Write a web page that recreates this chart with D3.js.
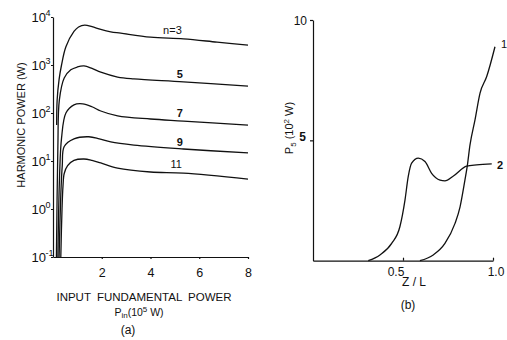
<!DOCTYPE html>
<html><head><meta charset="utf-8">
<script src="https://cdn.jsdelivr.net/npm/d3@7"></script>
<style>
body{margin:0;background:#fff}
svg{display:block}
text{font-family:"Liberation Sans",Arial,Helvetica,sans-serif;fill:#111}
</style>
</head><body><svg id="c" width="507" height="340"></svg>
<script>
// ---------- Panel (a) data: harmonic power vs input fundamental power ----------
const harmonicLabels = ["n=3", "5", "7", "9", "11"];
const pinN3  = [0.15, 0.17, 0.25, 0.35, 0.53, 0.86, 1.05, 1.3, 1.6, 1.96, 2.37, 2.78, 4.0, 5.35, 6.73, 8.0];
const powN3  = [56, 186, 500, 1000, 2400, 5000, 6200, 6800, 6300, 5500, 4900, 4600, 3800, 3500, 3000, 2600];
const pinN5  = [0.14, 0.2, 0.26, 0.46, 0.73, 1.0, 1.27, 1.6, 1.96, 2.65, 3.32, 5.35, 8.0];
const powN5  = [0.1, 20, 186, 537, 795, 910, 955, 850, 708, 562, 513, 447, 363];
const pinN7  = [0.2, 0.27, 0.35, 0.53, 0.86, 1.22, 1.6, 1.96, 2.65, 4.0, 5.35, 8.0];
const powN7  = [0.1, 5, 30, 100, 148, 155, 135, 110, 87, 75, 68, 56];
const pinN9  = [0.25, 0.32, 0.38, 0.46, 0.86, 1.47, 1.9, 2.37, 3.32, 5.35, 8.0];
const powN9  = [0.1, 2, 8, 20, 29, 32, 29, 25, 21.5, 17.8, 14.7];
const pinN11 = [0.32, 0.37, 0.41, 0.46, 0.6, 0.86, 1.27, 1.6, 1.96, 2.65, 4.0, 5.35, 8.0];
const powN11 = [0.1, 1, 3, 5.5, 8, 10.3, 11, 10.3, 9.1, 7.1, 5.9, 5.6, 4.2];
const labelPin = [4.9, 5.2, 5.2, 5.2, 5.05];
const labelPow = [4400, 537, 82, 20.5, 7.1];
const pinTicks = [2, 4, 6, 8];
const powExponents = [-1, 0, 1, 2, 3, 4];

// ---------- Panel (b) data: P5 vs Z/L ----------
const curveLabels = ["1", "2"];
const zRatio1 = [0.594, 0.668, 0.733, 0.789, 0.817, 0.844, 0.857, 0.872, 0.9, 0.928, 0.965, 1.011];
const p5Line1 = [0, 0.24, 0.72, 1.55, 2.24, 3.35, 3.93, 4.8, 5.85, 6.96, 7.65, 8.89];
const zRatio2 = [0.307, 0.372, 0.437, 0.483, 0.511, 0.529, 0.548, 0.585, 0.622, 0.659, 0.706, 0.733, 0.78, 0.854, 0.909, 0.993];
const p5Line2 = [0, 0.24, 0.72, 1.42, 2.52, 3.49, 4.05, 4.26, 4.12, 3.63, 3.35, 3.32, 3.52, 3.93, 3.98, 4.02];
const zTicks = [0.5, 1.0];
const zTickLabels = ["0.5", "1.0"];
const p5Ticks = [5, 10];

const svg = d3.select("#c");
const INK = "#111";

// ================= Panel (a) =================
const xA = d3.scaleLinear().domain([0, 8]).range([53, 248]);
const yA = d3.scaleLog().domain([0.1, 10000]).range([257, 17]);
const gA = svg.append("g");

const axA_y = gA.append("g").attr("transform", `translate(${xA(0)},0)`)
  .call(d3.axisLeft(yA).tickValues(powExponents.map(e => Math.pow(10, e))).tickSize(2).tickSizeOuter(0).tickFormat(""));
const axA_x = gA.append("g").attr("transform", `translate(0,${yA(0.1)})`)
  .call(d3.axisBottom(xA).tickValues(pinTicks).tickSize(2).tickSizeOuter(0).tickFormat(d3.format("d")));
[axA_y, axA_x].forEach(a => {
  a.selectAll("path,line").attr("stroke", INK).attr("stroke-width", 1.2);
});
axA_x.selectAll("text").attr("font-size", 12.5).attr("dy", "1.2em").attr("fill", INK);

// log tick labels with superscripts
powExponents.forEach(e => {
  gA.append("text").attr("x", 46).attr("y", yA(Math.pow(10, e)) + 5)
    .attr("text-anchor", "end").attr("font-size", 13).text("10");
  gA.append("text").attr("x", 45.5).attr("y", yA(Math.pow(10, e)) - 1)
    .attr("font-size", 9).text(e);
});

const lineA = d3.line().x(d => xA(d[0])).y(d => yA(d[1])).curve(d3.curveCatmullRom.alpha(0.5));
const seriesA = [[pinN3, powN3], [pinN5, powN5], [pinN7, powN7], [pinN9, powN9], [pinN11, powN11]];
seriesA.forEach(([xs, ys]) => {
  gA.append("path").datum(xs.map((x, i) => [x, ys[i]]))
    .attr("d", lineA).attr("fill", "none").attr("stroke", INK).attr("stroke-width", 1.3);
});
harmonicLabels.forEach((lab, i) => {
  gA.append("text").attr("x", xA(labelPin[i])).attr("y", yA(labelPow[i]))
    .attr("text-anchor", "middle").attr("font-size", 11)
    .attr("font-weight", (i >= 1 && i <= 3) ? "bold" : "normal").text(lab);
});

// axis titles
gA.append("text").attr("transform", "translate(25,125) rotate(-90)")
  .attr("text-anchor", "middle").attr("font-size", 11).text("HARMONIC POWER (W)");
gA.append("text").attr("x", 144).attr("y", 301).attr("text-anchor", "middle")
  .attr("font-size", 11.5).attr("word-spacing", 3).text("INPUT FUNDAMENTAL POWER");
const pin = gA.append("text").attr("x", 139).attr("y", 316).attr("text-anchor", "middle").attr("font-size", 10.5);
pin.append("tspan").text("P");
pin.append("tspan").attr("font-size", 8).attr("dy", 2).text("in");
pin.append("tspan").attr("dy", -2).text("(10");
pin.append("tspan").attr("font-size", 8).attr("dy", -4).text("5");
pin.append("tspan").attr("dy", 4).text(" W)");
gA.append("text").attr("x", 128).attr("y", 334).attr("text-anchor", "middle").attr("font-size", 12).text("(a)");

// ================= Panel (b) =================
const xB = d3.scaleLinear().domain([0, 1]).range([313, 493]);
const yB = d3.scaleLinear().domain([0, 10]).range([260.7, 20]);
const gB = svg.append("g");

const axB_y = gB.append("g").attr("transform", `translate(${xB(0)},0)`)
  .call(d3.axisLeft(yB).tickValues(p5Ticks).tickSize(3).tickSizeOuter(0).tickFormat(""));
const axB_x = gB.append("g").attr("transform", `translate(0,${yB(0)})`)
  .call(d3.axisBottom(xB).tickValues(zTicks).tickSize(-3).tickSizeOuter(0).tickFormat(""));
[axB_y, axB_x].forEach(a => a.selectAll("path,line").attr("stroke", INK).attr("stroke-width", 1.2));

gB.append("text").attr("x", 307).attr("y", yB(10) + 5).attr("text-anchor", "end").attr("font-size", 12).text("10");
gB.append("text").attr("x", 306).attr("y", yB(5) + 1).attr("text-anchor", "end").attr("font-size", 12).attr("font-weight", "bold").text("5");
zTicks.forEach((z, i) => {
  gB.append("text").attr("x", xB(z) + (i === 0 ? -7 : 3)).attr("y", 276)
    .attr("text-anchor", "middle").attr("font-size", 12).text(zTickLabels[i]);
});

const lineB = d3.line().x(d => xB(d[0])).y(d => yB(d[1])).curve(d3.curveMonotoneX);
[[zRatio1, p5Line1], [zRatio2, p5Line2]].forEach(([xs, ys]) => {
  gB.append("path").datum(xs.map((x, i) => [x, ys[i]]))
    .attr("d", lineB).attr("fill", "none").attr("stroke", INK).attr("stroke-width", 1.3);
});
gB.append("text").attr("x", 504).attr("y", 48).attr("text-anchor", "middle").attr("font-size", 11).text(curveLabels[0]);
gB.append("text").attr("x", 500).attr("y", 169).attr("text-anchor", "middle").attr("font-size", 11).attr("font-weight", "bold").text(curveLabels[1]);

const p5 = gB.append("text").attr("transform", "translate(293,128) rotate(-90)")
  .attr("text-anchor", "middle").attr("font-size", 11);
p5.append("tspan").text("P");
p5.append("tspan").attr("font-size", 8).attr("dy", 3).text("5");
p5.append("tspan").attr("dy", -3).text(" (10");
p5.append("tspan").attr("font-size", 8).attr("dy", -4).text("2");
p5.append("tspan").attr("dy", 4).text(" W)");
gB.append("text").attr("x", 414).attr("y", 286).attr("text-anchor", "middle").attr("font-size", 12).text("Z / L");
gB.append("text").attr("x", 408).attr("y", 309).attr("text-anchor", "middle").attr("font-size", 12).text("(b)");
</script></body></html>
